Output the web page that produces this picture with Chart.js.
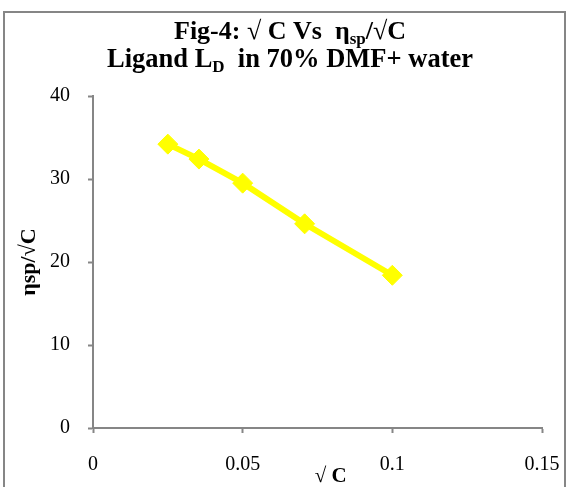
<!DOCTYPE html>
<html>
<head>
<meta charset="utf-8">
<script src="https://cdn.jsdelivr.net/npm/chart.js@4/dist/chart.umd.min.js"></script>
<style>
html, body { margin: 0; padding: 0; background: #fff; }
</style>
</head>
<body>
<canvas id="canvas" width="568" height="487"></canvas>
<script>
var sqrtC = [0.025, 0.0354, 0.05, 0.0707, 0.1];
var etaSp = [34.2, 32.4, 29.5, 24.6, 18.4];
var xTicks = [0, 0.05, 0.1, 0.15];
var yTicks = [0, 10, 20, 30, 40];
// [text, isSubscript]
var titleLine1 = [['Fig-4: \u221A C Vs  \u03B7', false], ['sp', true], ['/\u221AC', false]];
var titleLine2 = [['Ligand L', false], ['D', true], ['  in 70% DMF+ water', false]];
var xTitle = '     \u221A C';
var yTitle = '\u03B7sp/\u221AC';

var grey = '#868686';
var serif = '"Liberation Serif", "Times New Roman", serif';

function drawRich(c, parts, cx, y, size, subSize) {
	var w = 0;
	parts.forEach(function(p) {
		c.font = 'bold ' + (p[1] ? subSize : size) + 'px ' + serif;
		w += c.measureText(p[0]).width;
	});
	var x = cx - w / 2;
	parts.forEach(function(p) {
		c.font = 'bold ' + (p[1] ? subSize : size) + 'px ' + serif;
		c.fillText(p[0], x, p[1] ? y + 5 : y);
		x += c.measureText(p[0]).width;
	});
}

var frame = {
	id: 'frame',
	beforeDraw: function(chart) {
		var c = chart.ctx;
		c.save();
		c.fillStyle = '#fff';
		c.fillRect(0, 0, chart.width, chart.height);
		c.strokeStyle = grey;
		c.lineWidth = 2;
		c.strokeRect(4, 12, 561, 490);
		c.restore();
	},
	afterDraw: function(chart) {
		var c = chart.ctx;
		c.save();
		c.fillStyle = '#000';
		c.textAlign = 'left';
		c.textBaseline = 'alphabetic';
		drawRich(c, titleLine1, 290, 39, 26, 17);
		drawRich(c, titleLine2, 290, 67, 26.5, 17);
		c.restore();
	}
};

var points = sqrtC.map(function(x, i) { return { x: x, y: etaSp[i] }; });

window.onload = function() {
	var ctx = document.getElementById('canvas').getContext('2d');
	window.myChart = new Chart(ctx, {
		type: 'line',
		data: {
			datasets: [{
				label: 'etaSp',
				data: points,
				borderColor: '#FFFF00',
				backgroundColor: '#FFFF00',
				borderWidth: 6,
				pointStyle: 'rectRot',
				pointRadius: 10,
				pointBorderWidth: 1,
				tension: 0,
				fill: false
			}]
		},
		options: {
			responsive: false,
			animation: false,
			layout: { padding: { left: 0, right: 26, top: 96, bottom: 0 } },
			plugins: {
				legend: { display: false },
				tooltip: { enabled: false },
				title: { display: false }
			},
			scales: {
				x: {
					type: 'linear',
					min: 0,
					max: 0.15,
					afterBuildTicks: function(scale) {
						scale.ticks = xTicks.map(function(v) { return { value: v }; });
					},
					afterFit: function(scale) {
						scale.height = 59;
						scale.paddingLeft = 0;
						scale.paddingRight = 0;
					},
					grid: { drawOnChartArea: false, drawTicks: true, tickLength: 5, tickColor: grey, tickWidth: 2 },
					border: { display: true, color: grey, width: 2 },
					ticks: {
						color: '#000',
						padding: 20,
						maxRotation: 0,
						font: { family: serif, size: 20 },
						callback: function(v) { return String(Math.round(v * 1000) / 1000); }
					},
					title: {
						display: true,
						text: xTitle,
						color: '#000',
						padding: { top: 0, bottom: -2 },
						font: { family: serif, size: 21, weight: 'bold' }
					}
				},
				y: {
					min: 0,
					max: 40,
					afterBuildTicks: function(scale) {
						scale.ticks = yTicks.map(function(v) { return { value: v }; });
					},
					afterFit: function(scale) { scale.width = 93; },
					grid: { drawOnChartArea: false, drawTicks: true, tickLength: 5, tickColor: grey, tickWidth: 2 },
					border: { display: true, color: grey, width: 2 },
					ticks: {
						color: '#000',
						padding: 18,
						font: { family: serif, size: 20 }
					},
					title: {
						display: true,
						text: yTitle,
						color: '#000',
						padding: { top: 16, bottom: 0 },
						font: { family: serif, size: 22, weight: 'bold' }
					}
				}
			}
		},
		plugins: [frame]
	});
};
</script>
</body>
</html>
